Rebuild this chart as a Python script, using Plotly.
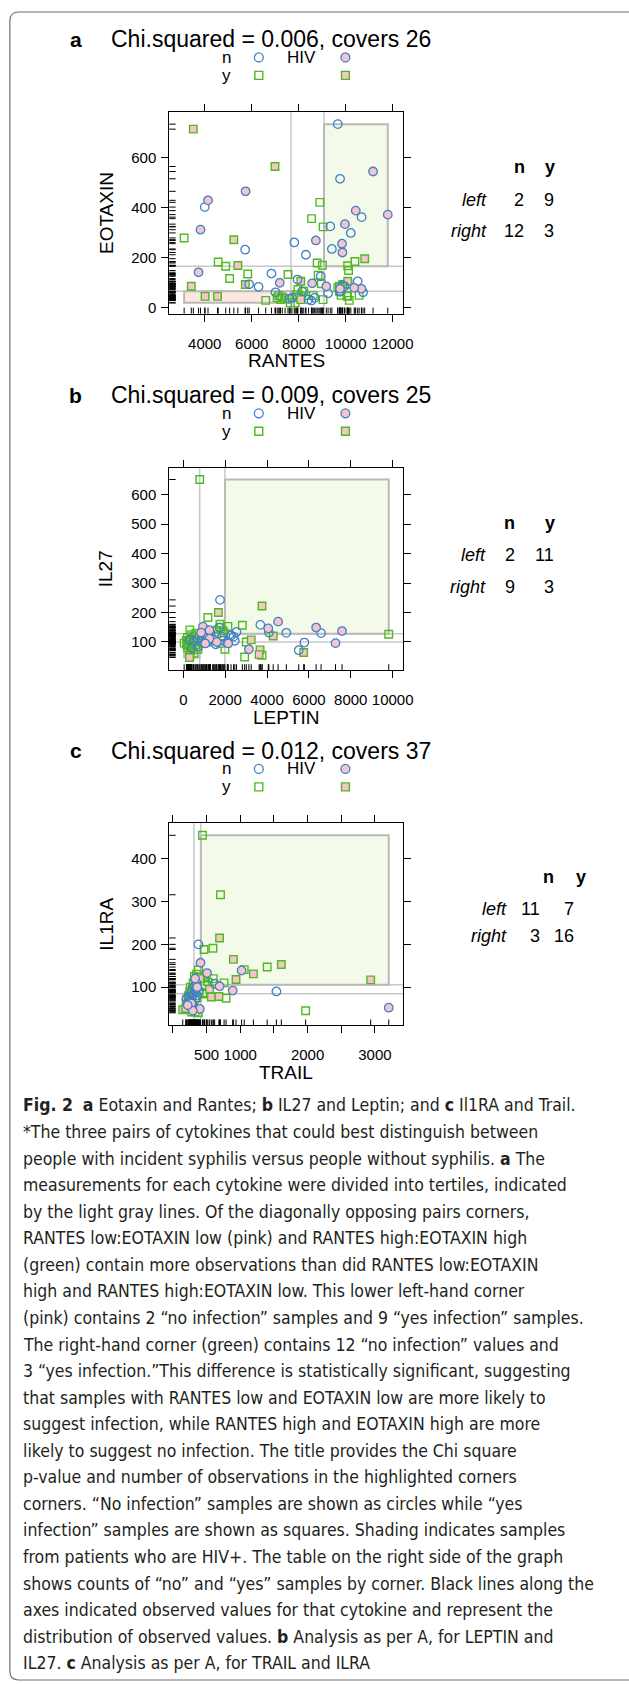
import plotly.graph_objects as go

W, H = 629, 1685

# ---------------- DATA ----------------
# Panel a : RANTES (x) vs EOTAXIN (y)
a_n_neg_x = [9663, 9760, 4000, 5720, 5890, 6290, 6840, 7812, 8305, 9343, 9412, 10219, 10678, 7014, 7950, 8940, 10510, 10740, 9760, 9250, 7600, 8420, 8540, 7712, 8150, 9950, 8680, 9870]
a_n_neg_y = [733, 515, 402, 232, 94, 84, 137, 261, 212, 325, 235, 299, 362, 62, 113, 126, 106, 62, 64, 58, 36, 33, 29, 40, 66, 86, 40, 90]
a_n_pos_x = [11165, 11791, 10428, 9969, 9843, 9860, 4139, 3819, 3736, 5739, 8730, 7194, 8575, 9175, 10668, 10362, 9760]
a_n_pos_y = [544, 372, 388, 334, 256, 221, 429, 312, 142, 465, 269, 100, 98, 86, 76, 80, 76]
a_y_neg_x = [3123, 4573, 4893, 5060, 5829, 6595, 7545, 8897, 8549, 9040, 8785, 9009, 8828, 8964, 9036, 10084, 10392, 10122, 10572, 10153, 10055, 9804, 9734, 9734, 9873, 7085, 7223, 7150, 7300, 7640, 7850, 7900, 7965, 8215, 8299, 8619, 7950, 8100, 10080, 9663, 10100, 7420]
a_y_neg_y = [279, 183, 166, 117, 135, 30, 133, 421, 356, 323, 179, 170, 130, 96, 33, 168, 185, 149, 50, 30, 49, 50, 66, 86, 93, 40, 33, 49, 44, 20, 20, 53, 73, 66, 49, 49, 40, 45, 46, 80, 95, 38]
a_y_pos_x = [3513, 6991, 3427, 4013, 4544, 5238, 5410, 5729, 8089, 8089, 10084, 10810]
a_y_pos_y = [713, 564, 86, 46, 46, 272, 169, 93, 106, 33, 106, 196]
a_tert_x = [7671, 9077]
a_tert_y = [66, 166]
a_counts = [[2, 9], [12, 3]]
a_title = "Chi.squared = 0.006, covers 26"

# Panel b : LEPTIN (x) vs IL27 (y)
b_n_neg_x = [1753, 3681, 4089, 4920, 2538, 2400, 2460, 5781, 5514, 6580, 1722, 1002, 657, 1850, 1400, 1200, 850, 500, 700, 400, 1550, 1900, 2100, 300, 1300, 1100, 950, 2280]
b_n_neg_y = [243, 158, 132, 131, 134, 118, 104, 98, 72, 130, 149, 126, 111, 118, 110, 100, 102, 104, 84, 78, 92, 105, 100, 108, 130, 140, 118, 122]
b_n_pos_x = [4058, 4528, 6345, 7582, 7270, 3133, 2144, 939, 1252, 1600, 1050, 1250, 850]
b_n_pos_y = [146, 169, 149, 137, 96, 75, 95, 152, 111, 100, 95, 140, 132]
b_y_neg_x = [782, 9813, 1174, 2820, 313, 3008, 2930, 3760, 1988, 1800, 1900, 1750, 1950, 1600, 1450, 1300, 1100, 600, 500, 400, 350, 250, 200, 150, 900, 2130, 313, 200, 250, 150, 350, 420, 500, 600, 700, 40]
b_y_neg_y = [652, 126, 183, 157, 141, 100, 49, 55, 75, 150, 138, 160, 131, 140, 120, 125, 120, 130, 120, 125, 110, 102, 115, 105, 95, 153, 55, 80, 88, 92, 70, 85, 62, 90, 75, 96]
b_y_pos_x = [1675, 3760, 3243, 3666, 3620, 5750, 4293, 1784, 297, 1100, 1500]
b_y_pos_y = [200, 222, 107, 73, 57, 64, 120, 95, 47, 105, 118]
b_tert_x = [782, 1988]
b_tert_y = [100, 128]
b_counts = [[2, 11], [9, 3]]
b_title = "Chi.squared = 0.009, covers 25"

# Panel c : TRAIL (x) vs IL1RA (y)
c_n_neg_x = [380, 620, 1537, 340, 300, 280, 260, 290, 250, 270, 310, 350, 240, 230, 200, 330, 360, 390]
c_n_neg_y = [200, 108, 90, 95, 82, 75, 68, 60, 55, 88, 100, 110, 78, 65, 72, 70, 80, 92]
c_n_pos_x = [1020, 507, 410, 693, 888, 400, 3205, 275, 295, 220, 360, 330]
c_n_pos_y = [139, 133, 157, 102, 92, 49, 52, 62, 45, 58, 100, 120]
c_y_neg_x = [439, 707, 463, 595, 1400, 1059, 1971, 473, 498, 790, 449, 278, 330, 376, 300, 320, 350, 380, 260, 290, 340, 360, 250, 230, 600, 470, 520, 760, 200, 255, 300]
c_y_neg_y = [455, 316, 188, 191, 147, 141, 45, 104, 87, 74, 84, 42, 42, 40, 110, 125, 130, 140, 100, 95, 88, 75, 90, 80, 120, 125, 112, 110, 60, 70, 55]
c_y_pos_x = [693, 898, 1610, 1195, 937, 2937, 546, 571, 683, 146, 190, 330, 400]
c_y_pos_y = [215, 165, 153, 131, 118, 117, 95, 77, 78, 47, 50, 105, 120]
c_tert_x = [312, 415]
c_tert_y = [84.4, 105.5]
c_counts = [[11, 7], [3, 16]]
c_title = "Chi.squared = 0.012, covers 37"

a_xticks = [4000, 6000, 8000, 10000, 12000]
a_xticktext = ["4000", "6000", "8000", "10000", "12000"]
a_yticks = [0, 200, 400, 600]
b_xticks = [0, 2000, 4000, 6000, 8000, 10000]
b_xticktext = ["0", "2000", "4000", "6000", "8000", "10000"]
b_yticks = [100, 200, 300, 400, 500, 600]
c_xticks = [0, 500, 1000, 1500, 2000, 2500, 3000]
c_xticktext = ["", "500", "1000", "", "2000", "", "3000"]
c_yticks = [100, 200, 300, 400]

col_labels = ["n", "y"]
row_labels = ["left", "right"]
legend_rows = ["n", "y"]

caption_lines = [
    "<b>Fig. 2</b>  <b>a</b> Eotaxin and Rantes; <b>b</b> IL27 and Leptin; and <b>c</b> Il1RA and Trail.",
    "*The three pairs of cytokines that could best distinguish between",
    "people with incident syphilis versus people without syphilis. <b>a</b> The",
    "measurements for each cytokine were divided into tertiles, indicated",
    "by the light gray lines. Of the diagonally opposing pairs corners,",
    "RANTES low:EOTAXIN low (pink) and RANTES high:EOTAXIN high",
    "(green) contain more observations than did RANTES low:EOTAXIN",
    "high and RANTES high:EOTAXIN low. This lower left-hand corner",
    "(pink) contains 2 \u201cno infection\u201d samples and 9 \u201cyes infection\u201d samples.",
    "The right-hand corner (green) contains 12 \u201cno infection\u201d values and",
    "3 \u201cyes infection.\u201dThis difference is statistically significant, suggesting",
    "that samples with RANTES low and EOTAXIN low are more likely to",
    "suggest infection, while RANTES high and EOTAXIN high are more",
    "likely to suggest no infection. The title provides the Chi square",
    "p-value and number of observations in the highlighted corners",
    "corners. \u201cNo infection\u201d samples are shown as circles while \u201cyes",
    "infection\u201d samples are shown as squares. Shading indicates samples",
    "from patients who are HIV+. The table on the right side of the graph",
    "shows counts of \u201cno\u201d and \u201cyes\u201d samples by corner. Black lines along the",
    "axes indicated observed values for that cytokine and represent the",
    "distribution of observed values. <b>b</b> Analysis as per A, for LEPTIN and",
    "IL27. <b>c</b> Analysis as per A, for TRAIL and ILRA",
]

# ---------------- STYLE ----------------
BLUE = "#3f80c6"
GREEN = "#4fba1e"
PINK = "#f8c4cc"
RECT_PINK = "#fde7e3"
RECT_GREEN = "#f3fae9"
RECT_LINE = "#b9b9b9"
TERT_LINE = "#c8c8c8"
FONT = "Liberation Sans, Arial, Helvetica, sans-serif"
CAP_FONT = "Liberation Sans Narrow, DejaVu Sans Condensed, Arial Narrow, Liberation Sans, sans-serif"


def px(X):
    return X / W


def py(Y):
    return 1 - Y / H


panels = [
    dict(letter="a", sfx="", title=a_title, top=112, bottom=314,
         nn=(a_n_neg_x, a_n_neg_y), npos=(a_n_pos_x, a_n_pos_y),
         yn=(a_y_neg_x, a_y_neg_y), ypos=(a_y_pos_x, a_y_pos_y),
         tx=a_tert_x, ty=a_tert_y, counts=a_counts,
         xr=[2490, 12460], yr=[-23, 782], xt=a_xticks, xtt=a_xticktext, yt=a_yticks,
         xlab="RANTES", ylab="EOTAXIN",
         table=dict(hdr=167.3, rows=[200, 231.7], lab=496.7, cols=[534, 565], hcols=[536, 566])),
    dict(letter="b", sfx="2", title=b_title, top=468.3, bottom=671,
         nn=(b_n_neg_x, b_n_neg_y), npos=(b_n_pos_x, b_n_pos_y),
         yn=(b_y_neg_x, b_y_neg_y), ypos=(b_y_pos_x, b_y_pos_y),
         tx=b_tert_x, ty=b_tert_y, counts=b_counts,
         xr=[-671, 10517], yr=[4, 692], xt=b_xticks, xtt=b_xticktext, yt=b_yticks,
         xlab="LEPTIN", ylab="IL27",
         table=dict(hdr=523.3, rows=[556, 587.3], lab=496, cols=[525, 564.5], hcols=[525.5, 566])),
    dict(letter="c", sfx="3", title=c_title, top=824.3, bottom=1026.7,
         nn=(c_n_neg_x, c_n_neg_y), npos=(c_n_pos_x, c_n_pos_y),
         yn=(c_y_neg_x, c_y_neg_y), ypos=(c_y_pos_x, c_y_pos_y),
         tx=c_tert_x, ty=c_tert_y, counts=c_counts,
         xr=[-54, 3424], yr=[10.4, 483], xt=c_xticks, xtt=c_xticktext, yt=c_yticks,
         xlab="TRAIL", ylab="IL1RA",
         table=dict(hdr=878.5, rows=[909.6, 937.6], lab=517, cols=[551, 585], hcols=[565, 598])),
]

LEFT, RIGHT = 172, 410

fig = go.Figure()
shapes = []
annotations = []
layout_axes = {}

for p in panels:
    s = p["sfx"]
    xa, ya = "x" + s, "y" + s
    all_x = p["nn"][0] + p["npos"][0] + p["yn"][0] + p["ypos"][0]
    all_y = p["nn"][1] + p["npos"][1] + p["yn"][1] + p["ypos"][1]

    # corner rectangles
    shapes.append(dict(type="rect", xref=xa, yref=ya, x0=min(all_x), x1=p["tx"][0],
                       y0=min(all_y), y1=p["ty"][0], fillcolor=RECT_PINK,
                       line=dict(color=RECT_LINE, width=2), layer="below"))
    shapes.append(dict(type="rect", xref=xa, yref=ya, x0=p["tx"][1], x1=max(all_x),
                       y0=p["ty"][1], y1=max(all_y), fillcolor=RECT_GREEN,
                       line=dict(color=RECT_LINE, width=2), layer="below"))
    # tertile lines
    for v in p["tx"]:
        shapes.append(dict(type="line", xref=xa, yref=ya + " domain", x0=v, x1=v, y0=0, y1=1,
                           line=dict(color=TERT_LINE, width=1.5), layer="below"))
    for v in p["ty"]:
        shapes.append(dict(type="line", xref=xa + " domain", yref=ya, x0=0, x1=1, y0=v, y1=v,
                           line=dict(color=TERT_LINE, width=1.5), layer="below"))
    # rugs
    hgt = p["bottom"] - p["top"]
    for v in all_x:
        shapes.append(dict(type="line", xref=xa, yref=ya + " domain", x0=v, x1=v, y0=0, y1=6.0 / hgt,
                           line=dict(color="black", width=1), layer="below"))
    for v in all_y:
        shapes.append(dict(type="line", xref=xa + " domain", yref=ya, x0=0, x1=6.5 / (RIGHT - LEFT), y0=v, y1=v,
                           line=dict(color="black", width=1), layer="below"))

    # points
    fig.add_trace(go.Scatter(x=p["yn"][0], y=p["yn"][1], mode="markers", xaxis=xa, yaxis=ya,
                             marker=dict(symbol="square-open", size=7.5, color=GREEN, line=dict(width=1.4)),
                             showlegend=False, hoverinfo="skip"))
    fig.add_trace(go.Scatter(x=p["ypos"][0], y=p["ypos"][1], mode="markers", xaxis=xa, yaxis=ya,
                             marker=dict(symbol="square", size=7.5, color=PINK, line=dict(width=1.4, color=GREEN)),
                             showlegend=False, hoverinfo="skip"))
    fig.add_trace(go.Scatter(x=p["nn"][0], y=p["nn"][1], mode="markers", xaxis=xa, yaxis=ya,
                             marker=dict(symbol="circle-open", size=8.5, color=BLUE, line=dict(width=1.3)),
                             showlegend=False, hoverinfo="skip"))
    fig.add_trace(go.Scatter(x=p["npos"][0], y=p["npos"][1], mode="markers", xaxis=xa, yaxis=ya,
                             marker=dict(symbol="circle", size=8.5, color=PINK, line=dict(width=1.3, color=BLUE)),
                             showlegend=False, hoverinfo="skip"))

    # axes
    common = dict(showline=True, linecolor="black", linewidth=1, mirror="allticks", ticks="outside",
                  ticklen=7, tickcolor="black", tickwidth=1, showgrid=False, zeroline=False,
                  tickfont=dict(family=FONT, size=15, color="black"))
    xkey = "xaxis" + s
    ykey = "yaxis" + s
    xax = dict(common, domain=[px(LEFT), px(RIGHT)], range=p["xr"], anchor=ya,
               tickmode="array", tickvals=p["xt"], ticktext=p["xtt"], ticklabelstandoff=9)
    yax = dict(common, domain=[py(p["bottom"]), py(p["top"])], range=p["yr"], anchor=xa,
               tickmode="array", tickvals=p["yt"], ticktext=[str(v) for v in p["yt"]], ticklabelstandoff=2)
    layout_axes[xkey] = xax
    layout_axes[ykey] = yax

    # titles
    top = p["top"]
    annotations.append(dict(text="<b>%s</b>" % p["letter"], x=px(77), y=py(top - 72.5), xref="paper", yref="paper",
                            xanchor="center", yanchor="middle", showarrow=False,
                            font=dict(family=FONT, size=21, color="black")))
    annotations.append(dict(text=p["title"], x=px(110.5), y=py(top - 72.5), xref="paper", yref="paper",
                            xanchor="left", yanchor="middle", showarrow=False,
                            font=dict(family=FONT, size=23, color="black")))
    # legend
    rows_y = [top - 54.5, top - 36.5]
    for lbl, ry in zip(legend_rows, rows_y):
        annotations.append(dict(text=lbl, x=px(230.5), y=py(ry), xref="paper", yref="paper",
                                xanchor="center", yanchor="middle", showarrow=False,
                                font=dict(family=FONT, size=17, color="black")))
    annotations.append(dict(text="HIV", x=px(306), y=py(rows_y[0]), xref="paper", yref="paper",
                            xanchor="center", yanchor="middle", showarrow=False,
                            font=dict(family=FONT, size=17, color="black")))
    r = 4.5
    for cx, fill in [(263, None), (351, PINK)]:
        shapes.append(dict(type="circle", xref="paper", yref="paper",
                           x0=px(cx - r), x1=px(cx + r), y0=py(rows_y[0] + r), y1=py(rows_y[0] - r),
                           fillcolor=fill if fill else "rgba(0,0,0,0)", line=dict(color=BLUE, width=1.3)))
    q = 4
    for cx, fill in [(263, None), (351, PINK)]:
        shapes.append(dict(type="rect", xref="paper", yref="paper",
                           x0=px(cx - q), x1=px(cx + q), y0=py(rows_y[1] + q), y1=py(rows_y[1] - q),
                           fillcolor=fill if fill else "rgba(0,0,0,0)", line=dict(color=GREEN, width=1.4)))
    # axis titles
    annotations.append(dict(text=p["xlab"], x=px((LEFT + RIGHT) / 2), y=py(p["bottom"] + 47), xref="paper",
                            yref="paper", xanchor="center", yanchor="middle", showarrow=False,
                            font=dict(family=FONT, size=19, color="black")))
    annotations.append(dict(text=p["ylab"], x=px(108), y=py((p["top"] + p["bottom"]) / 2), xref="paper",
                            yref="paper", xanchor="center", yanchor="middle", showarrow=False, textangle=-90,
                            font=dict(family=FONT, size=19, color="black")))
    # table
    t = p["table"]
    for ci, cl in enumerate(col_labels):
        annotations.append(dict(text="<b>%s</b>" % cl, x=px(t["hcols"][ci]), y=py(t["hdr"]), xref="paper",
                                yref="paper", xanchor="right", yanchor="middle", showarrow=False,
                                font=dict(family=FONT, size=18, color="black")))
    for ri, rl in enumerate(row_labels):
        annotations.append(dict(text="<i>%s</i>" % rl, x=px(t["lab"]), y=py(t["rows"][ri]), xref="paper",
                                yref="paper", xanchor="right", yanchor="middle", showarrow=False,
                                font=dict(family=FONT, size=18, color="black")))
        for ci in range(2):
            annotations.append(dict(text=str(p["counts"][ri][ci]), x=px(t["cols"][ci]), y=py(t["rows"][ri]),
                                    xref="paper", yref="paper", xanchor="right", yanchor="middle",
                                    showarrow=False, font=dict(family=FONT, size=18, color="black")))

# caption
for i, line in enumerate(caption_lines):
    annotations.append(dict(text=line, x=px(21.5), y=py(1106.7 + i * 26.6), xref="paper", yref="paper",
                            xanchor="left", yanchor="middle", showarrow=False,
                            font=dict(family=CAP_FONT, size=17.5, color="#231f20")))

# outer frame (rounded)
R = 9
fx0, fy0, fx1, fy1 = 10, 12, 660, 1682
path = ("M %f,%f Q %f,%f %f,%f L %f,%f L %f,%f L %f,%f Q %f,%f %f,%f Z" % (
    px(fx0), py(fy0 + R), px(fx0), py(fy0), px(fx0 + R), py(fy0),
    px(fx1), py(fy0), px(fx1), py(fy1), px(fx0 + R), py(fy1),
    px(fx0), py(fy1), px(fx0), py(fy1 - R)))
shapes.append(dict(type="path", xref="paper", yref="paper", path=path,
                   line=dict(color="#707070", width=1.2), fillcolor="rgba(0,0,0,0)"))

fig.update_layout(width=W, height=H, margin=dict(l=0, r=0, t=0, b=0, pad=0),
                  paper_bgcolor="white", plot_bgcolor="white", showlegend=False,
                  shapes=shapes, annotations=annotations, **layout_axes)

fig.write_html("out.html", config={"displayModeBar": False},
               post_script="document.body.style.margin='0px';document.body.style.overflow='hidden';")
